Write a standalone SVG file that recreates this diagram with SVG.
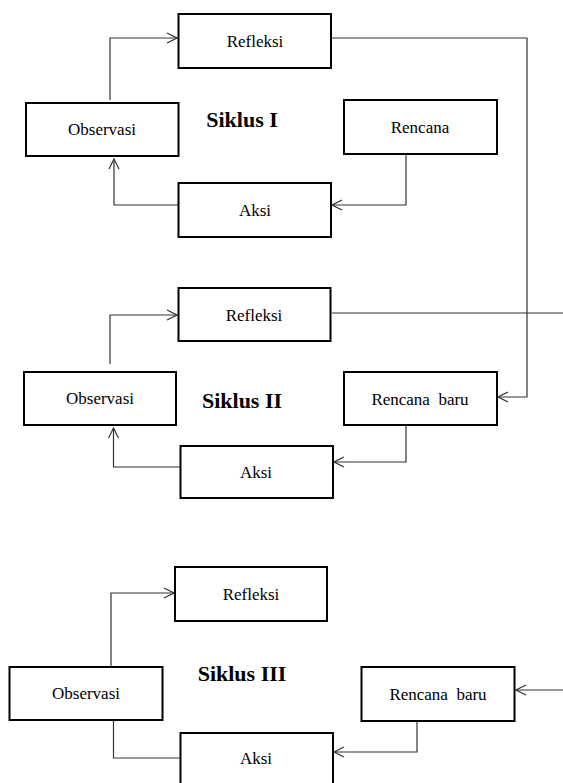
<svg xmlns="http://www.w3.org/2000/svg" width="563" height="783" viewBox="0 0 563 783">
<style>
.box{fill:#fff;stroke:#000;stroke-width:2}
.t{font-family:"Liberation Serif","Times New Roman",serif;font-size:17px;fill:#000;text-anchor:middle}
.h{font-family:"Liberation Serif","Times New Roman",serif;font-size:22px;font-weight:bold;fill:#000;text-anchor:middle}
.c{fill:none;stroke:#333;stroke-width:1.2}
</style>
<defs>
<marker id="arr" viewBox="0 0 12 12" refX="11" refY="6" markerWidth="12" markerHeight="12" markerUnits="userSpaceOnUse" orient="auto">
<path d="M1,1 L11,6 L1,11" fill="none" stroke="#333" stroke-width="1.2"/>
</marker>
</defs>
<rect width="563" height="783" fill="#fff"/>
<g id="connectors">
<path class="c" d="M110,100 V38 H177" marker-end="url(#arr)"/>
<path class="c" d="M331,38 H527 V397 H498" marker-end="url(#arr)"/>
<path class="c" d="M406,154 V205 H332" marker-end="url(#arr)"/>
<path class="c" d="M178,205 H114 V159" marker-end="url(#arr)"/>
<path class="c" d="M110,364 V315 H177" marker-end="url(#arr)"/>
<path class="c" d="M332,313 H563"/>
<path class="c" d="M406,425 V462 H334" marker-end="url(#arr)"/>
<path class="c" d="M180,467 H113.5 V428" marker-end="url(#arr)"/>
<path class="c" d="M111,667 V593 H174" marker-end="url(#arr)"/>
<path class="c" d="M113.5,720 V758 H180"/>
<path class="c" d="M417,721 V752 H334" marker-end="url(#arr)"/>
<path class="c" d="M563,690 H516" marker-end="url(#arr)"/>
</g>
<g id="refleksi1"><rect class="box" x="178.5" y="14" width="152.5" height="54"/><text class="t" x="255" y="47">Refleksi</text></g>
<g id="observasi1"><rect class="box" x="26" y="103" width="152.5" height="53"/><text class="t" x="102" y="135">Observasi</text></g>
<g id="siklus1"><text class="h" x="242" y="127">Siklus I</text></g>
<g id="rencana1"><rect class="box" x="344" y="100" width="153" height="54"/><text class="t" x="420" y="133">Rencana</text></g>
<g id="aksi1"><rect class="box" x="178.5" y="183" width="152.5" height="54"/><text class="t" x="255" y="216">Aksi</text></g>

<g id="refleksi2"><rect class="box" x="178.5" y="288" width="152" height="53"/><text class="t" x="254" y="321">Refleksi</text></g>
<g id="observasi2"><rect class="box" x="24" y="372" width="152" height="53"/><text class="t" x="100" y="404">Observasi</text></g>
<g id="siklus2"><text class="h" x="242" y="408">Siklus II</text></g>
<g id="rencana2"><rect class="box" x="344" y="372" width="153" height="53"/><text class="t" x="420" y="405">Rencana&#160; baru</text></g>
<g id="aksi2"><rect class="box" x="180.5" y="446" width="152.5" height="52"/><text class="t" x="256" y="478">Aksi</text></g>

<g id="refleksi3"><rect class="box" x="175" y="567" width="152" height="54"/><text class="t" x="251" y="600">Refleksi</text></g>
<g id="observasi3"><rect class="box" x="9.5" y="667" width="153" height="53"/><text class="t" x="86" y="699">Observasi</text></g>
<g id="siklus3"><text class="h" x="242" y="681">Siklus III</text></g>
<g id="rencana3"><rect class="box" x="361.5" y="667" width="153" height="54"/><text class="t" x="438" y="700">Rencana&#160; baru</text></g>
<g id="aksi3"><rect class="box" x="180.5" y="733" width="152.5" height="60"/><text class="t" x="256" y="764">Aksi</text></g>
</svg>
